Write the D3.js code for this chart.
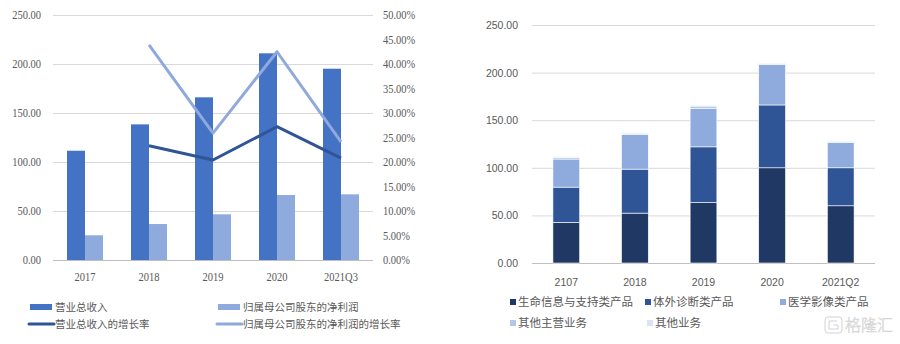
<!DOCTYPE html>
<html>
<head>
<meta charset="utf-8">
<script src="https://cdn.jsdelivr.net/npm/d3@7"></script>
<style>
  html, body { margin: 0; padding: 0; background: #fff; }
  svg { display: block; }
</style>
</head>
<body>
<svg id="chart" width="900" height="344"></svg>
<script>
// ---- Left panel: revenue / net profit bars with growth-rate lines ----
const leftCategories = ["2017", "2018", "2019", "2020", "2021Q3"];
const revenue = [111.5, 138.4, 166.0, 210.9, 195.2];
const netProfit = [25.2, 36.7, 46.6, 66.3, 67.0];
const revenueGrowth = [null, 23.3, 20.4, 27.2, 20.8];
const profitGrowth = [null, 43.9, 25.9, 42.5, 24.1];
const leftTicks = [0, 50, 100, 150, 200, 250];
const rightTicks = [0, 5, 10, 15, 20, 25, 30, 35, 40, 45, 50];
const leftLegend = ["营业总收入", "归属母公司股东的净利润", "营业总收入的增长率", "归属母公司股东的净利润的增长率"];

// ---- Right panel: revenue by business line (stacked) ----
const rightCategories = ["2107", "2018", "2019", "2020", "2021Q2"];
const segmentNames = ["生命信息与支持类产品", "体外诊断类产品", "医学影像类产品", "其他主营业务", "其他业务"];
const lifeSupport = [42.7, 52.4, 63.6, 100.0, 60.1];
const ivd = [37.0, 46.2, 58.4, 66.0, 39.9];
const imaging = [29.5, 36.4, 40.2, 42.5, 26.6];
const otherMain = [1.6, 1.3, 2.6, 1.0, 1.2];
const otherBiz = [1.0, 0.8, 1.0, 0.6, 0.5];
const stackTicks = [0, 50, 100, 150, 200, 250];

const svg = d3.select("#chart");
const textGray = "#595959";
const gridGray = "#d9d9d9";

// ================= Left panel =================
const L = { left: 53, right: 373, top: 15, bottom: 260 };
const xL = d3.scaleBand().domain(leftCategories).range([L.left, L.right]);
const yL = d3.scaleLinear().domain([0, 250]).range([L.bottom, L.top]);
const yR = d3.scaleLinear().domain([0, 50]).range([L.bottom, L.top]);
const serif = "'Liberation Serif', 'Times New Roman', serif";
const squeeze = 0.84;

const gL = svg.append("g");
gL.append("g")
  .attr("transform", `translate(${L.left},0)`)
  .call(d3.axisLeft(yL).tickValues(leftTicks).tickSize(-(L.right - L.left)).tickFormat(""))
  .call(g => g.select(".domain").remove())
  .call(g => g.selectAll("line").attr("stroke", d => d === 0 ? "#bfbfbf" : gridGray));

// left axis labels
gL.selectAll("text.yl").data(leftTicks).join("text")
  .attr("transform", d => `translate(41,${yL(d) + 4}) scale(${squeeze},1)`)
  .attr("text-anchor", "end")
  .attr("font-family", serif).attr("font-size", 12.5).attr("fill", textGray)
  .text(d => d3.format(".2f")(d));

// right axis labels
gL.selectAll("text.yr").data(rightTicks).join("text")
  .attr("transform", d => `translate(383,${yR(d) + 4}) scale(${squeeze},1)`)
  .attr("text-anchor", "start")
  .attr("font-family", serif).attr("font-size", 12.5).attr("fill", textGray)
  .text(d => d3.format(".2f")(d) + "%");

// x labels
gL.selectAll("text.xl").data(leftCategories).join("text")
  .attr("transform", d => `translate(${xL(d) + xL.bandwidth() / 2},281) scale(${squeeze},1)`)
  .attr("text-anchor", "middle")
  .attr("font-family", serif).attr("font-size", 12.5).attr("fill", textGray)
  .text(d => d);

const barW = 18;
gL.selectAll("rect.rev").data(leftCategories).join("rect")
  .attr("x", d => xL(d) + xL.bandwidth() / 2 - barW)
  .attr("y", (d, i) => yL(revenue[i]))
  .attr("width", barW)
  .attr("height", (d, i) => yL(0) - yL(revenue[i]))
  .attr("fill", "#4472c4");
gL.selectAll("rect.np").data(leftCategories).join("rect")
  .attr("x", d => xL(d) + xL.bandwidth() / 2)
  .attr("y", (d, i) => yL(netProfit[i]))
  .attr("width", barW)
  .attr("height", (d, i) => yL(0) - yL(netProfit[i]))
  .attr("fill", "#8faadc");

const lineL = d3.line()
  .defined(d => d.v !== null)
  .x(d => xL(d.c) + xL.bandwidth() / 2)
  .y(d => yR(d.v));
gL.append("path")
  .datum(leftCategories.map((c, i) => ({ c, v: profitGrowth[i] })))
  .attr("d", lineL).attr("fill", "none")
  .attr("stroke", "#8fa9dc").attr("stroke-width", 3).attr("stroke-linejoin", "round");
gL.append("path")
  .datum(leftCategories.map((c, i) => ({ c, v: revenueGrowth[i] })))
  .attr("d", lineL).attr("fill", "none")
  .attr("stroke", "#2f5597").attr("stroke-width", 3).attr("stroke-linejoin", "round");

// legend
const cjk = "'Noto Sans CJK SC', sans-serif";
const legL = [
  { x: 30, y: 307, kind: "rect", color: "#4472c4" },
  { x: 218, y: 307, kind: "rect", color: "#8faadc" },
  { x: 30, y: 324, kind: "line", color: "#2f5597" },
  { x: 218, y: 324, kind: "line", color: "#8fa9dc" }
];
legL.forEach((it, i) => {
  if (it.kind === "rect") {
    gL.append("rect").attr("x", it.x).attr("y", it.y - 3).attr("width", 22).attr("height", 6).attr("fill", it.color);
  } else {
    gL.append("line").attr("x1", it.x - 1).attr("x2", it.x + 24).attr("y1", it.y).attr("y2", it.y)
      .attr("stroke", it.color).attr("stroke-width", 3).attr("stroke-linecap", "round");
  }
  gL.append("text").attr("x", it.x + 25).attr("y", it.y + 4)
    .attr("font-family", cjk).attr("font-size", 10.5).attr("fill", textGray)
    .text(leftLegend[i]);
});

// ================= Right panel =================
const R = { left: 532, right: 875, top: 25, bottom: 263 };
const xS = d3.scaleBand().domain(rightCategories).range([R.left, R.right]).paddingInner(0.61).paddingOuter(0.305);
const yS = d3.scaleLinear().domain([0, 250]).range([R.bottom, R.top]);
const sans = "'Liberation Sans', Arial, sans-serif";
const segColors = ["#203864", "#2f5597", "#8faadc", "#b4c7e7", "#dae3f3"];

const gR = svg.append("g");
gR.append("g")
  .attr("transform", `translate(${R.left},0)`)
  .call(d3.axisLeft(yS).tickValues(stackTicks).tickSize(-(R.right - R.left)).tickFormat(""))
  .call(g => g.select(".domain").remove())
  .call(g => g.selectAll("line").attr("stroke", d => d === 0 ? "#bfbfbf" : gridGray));

gR.selectAll("text.ys").data(stackTicks).join("text")
  .attr("x", 518).attr("y", d => yS(d) + 4)
  .attr("text-anchor", "end")
  .attr("font-family", sans).attr("font-size", 10.5).attr("fill", textGray)
  .text(d => d3.format(".2f")(d));

gR.selectAll("text.xs").data(rightCategories).join("text")
  .attr("x", d => xS(d) + xS.bandwidth() / 2).attr("y", 286)
  .attr("text-anchor", "middle")
  .attr("font-family", sans).attr("font-size", 10.5).attr("fill", textGray)
  .text(d => d);

const seriesArrays = [lifeSupport, ivd, imaging, otherMain, otherBiz];
const table = rightCategories.map((c, i) => {
  const row = { cat: c };
  segmentNames.forEach((n, k) => { row[n] = seriesArrays[k][i]; });
  return row;
});
const stacked = d3.stack().keys(segmentNames)(table);

gR.selectAll("g.layer").data(stacked).join("g")
  .attr("fill", (d, i) => segColors[i])
  .selectAll("rect").data(d => d).join("rect")
  .attr("x", d => xS(d.data.cat))
  .attr("width", xS.bandwidth())
  .attr("y", d => yS(d[1]))
  .attr("height", d => yS(d[0]) - yS(d[1]))
  .attr("stroke", "#ffffff").attr("stroke-width", 0.6);

const legR = [
  { x: 513, y: 302 }, { x: 648, y: 302 }, { x: 783, y: 302 },
  { x: 513, y: 323 }, { x: 650, y: 323 }
];
legR.forEach((p, i) => {
  gR.append("rect").attr("x", p.x - 3).attr("y", p.y - 3).attr("width", 6).attr("height", 6).attr("fill", segColors[i]);
  gR.append("text").attr("x", p.x + 5).attr("y", p.y + 4)
    .attr("font-family", cjk).attr("font-size", 11.5).attr("fill", textGray)
    .text(segmentNames[i]);
});

// brand mark
const wm = svg.append("g").attr("fill", "#ffffff").attr("stroke", "#d2d2d2").attr("stroke-width", 1);
wm.append("rect").attr("x", 825).attr("y", 317).attr("width", 17).attr("height", 16).attr("rx", 3);
wm.append("path").attr("d", "M837,321 L829,321 L829,329 L838,329 L838,325 L833,325")
  .attr("fill", "none");
wm.append("text").attr("x", 845).attr("y", 331)
  .attr("font-family", cjk).attr("font-size", 16).attr("font-weight", 300)
  .attr("fill", "#f4f4f4").attr("stroke-width", 0.5)
  .text("格隆汇");
</script>
</body>
</html>
